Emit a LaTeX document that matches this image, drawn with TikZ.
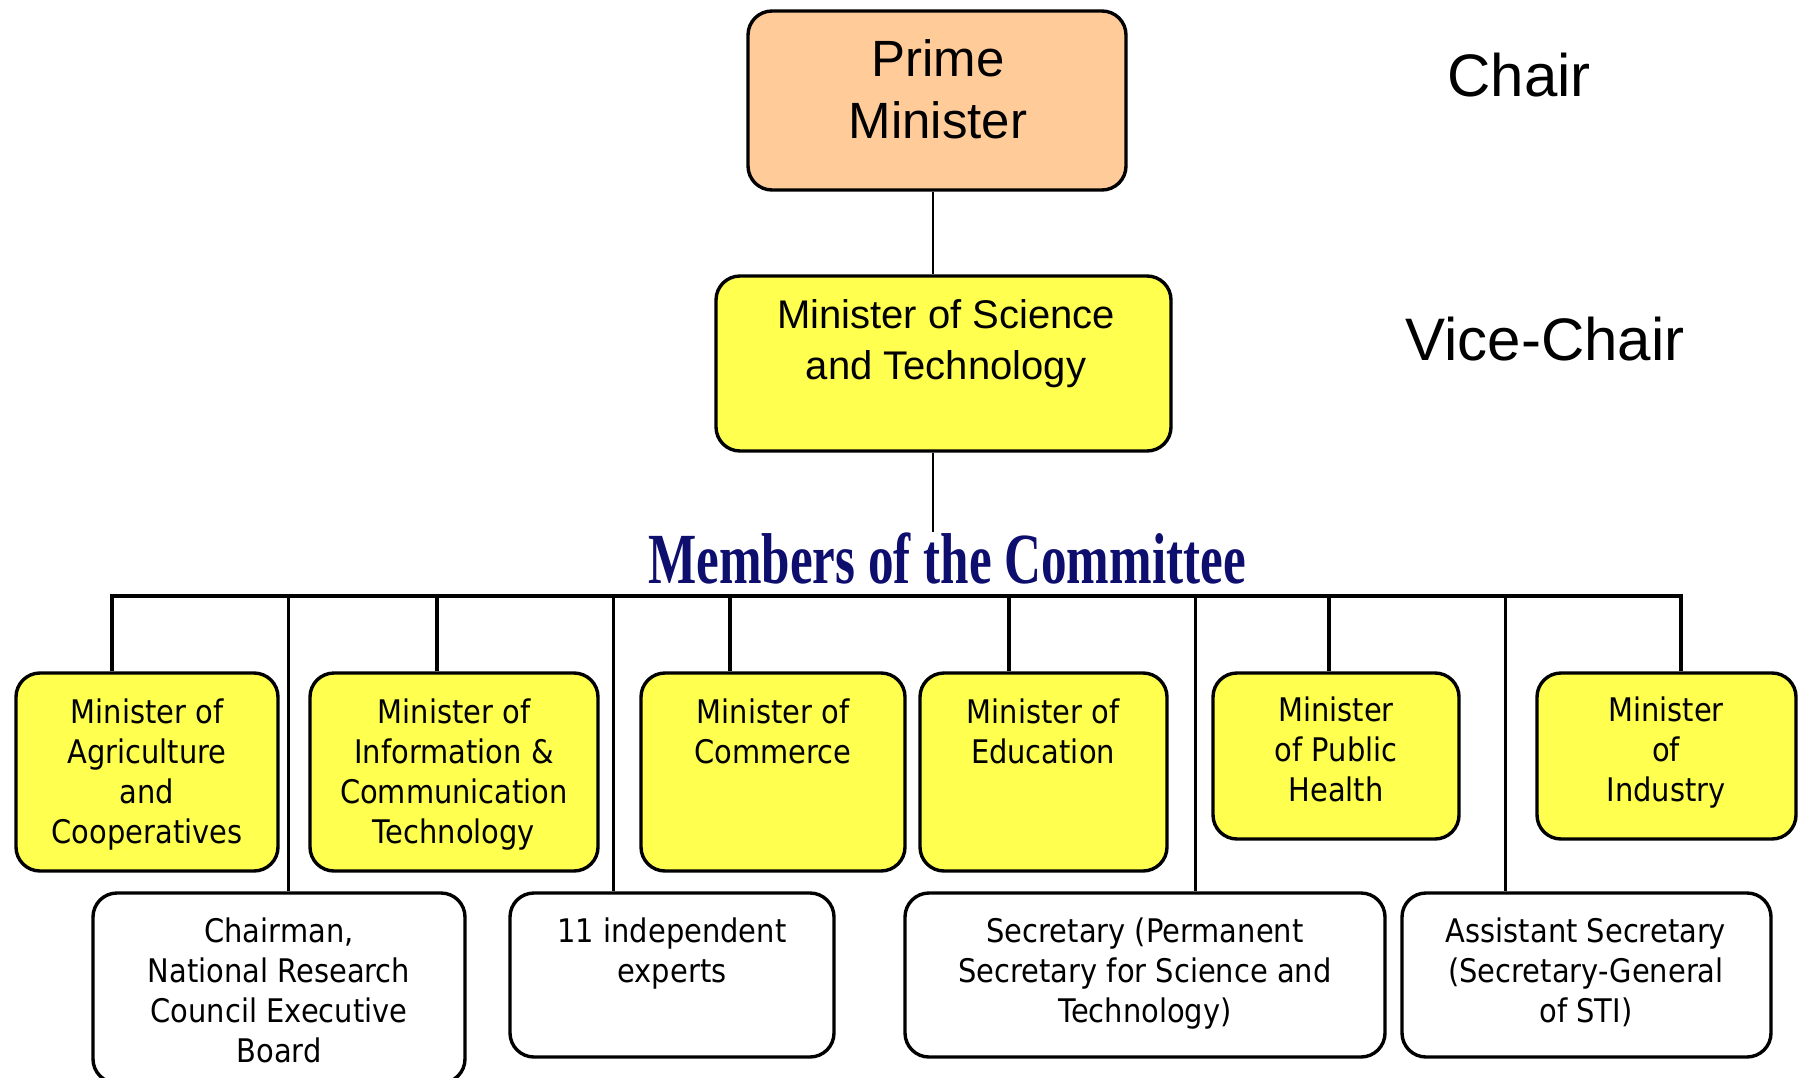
\documentclass[tikz,border=0pt]{standalone}
\usepackage{fontspec}
\usepackage{graphicx}
\setmainfont{Liberation Sans}
\newfontfamily\boxfont[FakeStretch=0.89]{DejaVu Sans}
\newfontfamily\titlefont[FakeStretch=0.71]{Liberation Serif}
\definecolor{peach}{HTML}{FFCC99}
\definecolor{yel}{HTML}{FFFF4F}
\definecolor{navy}{HTML}{0E0E6E}
\tikzset{
  boxbase/.style={draw, line width=3.4pt, rounded corners=24pt, inner sep=0pt},
  pmbox/.style={boxbase, fill=peach},
  ybox/.style={boxbase, fill=yel},
  wbox/.style={boxbase, fill=white},
  btext/.style={anchor=base, align=center, inner sep=0pt, font=\boxfont\fontsize{32.5}{40}\selectfont},
  toptext/.style={anchor=base, align=center, inner sep=0pt},
  thinline/.style={line width=2pt},
  barline/.style={line width=4pt},
  longdrop/.style={line width=3pt},
}
\begin{document}
\begin{tikzpicture}[x=1pt,y=-1pt]
\useasboundingbox (0,0) rectangle (1798,1078);

% top boxes (text nodes anchored at the baseline of their last line)
\node[pmbox, minimum width=378pt, minimum height=179pt] (pm) at (937,100.5) {};
\node[toptext, font=\fontsize{51}{62}\selectfont] (pmt) at (938,139) {Prime\\Minister};
\node[ybox, minimum width=455pt, minimum height=175pt] (most) at (943.5,363.5) {};
\node[toptext, font=\fontsize{40}{51}\selectfont] (mostt) at (946,379) {Minister of Science\\and Technology};

\node[toptext, font=\fontsize{60}{70}\selectfont] (chair) at (1519,97) {Chair};
\node[toptext, font=\fontsize{60}{70}\selectfont] (vchair) at (1545,360) {Vice-Chair};

\node[toptext, text=navy, font=\titlefont\bfseries\fontsize{72}{80}\selectfont] (title) at (947,583) {Members of the Committee};

% spine
\coordinate (vx) at (933,0);
\draw[thinline] (pm.south -| vx) -- (most.north -| vx);
\draw[thinline] (most.south -| vx) -- (title.north -| vx);

% bar
\coordinate (bl) at (112,596);
\coordinate (br) at (1681,596);
\draw[barline, line cap=rect] (bl) -- (br);

% yellow member boxes
\node[ybox, minimum width=262pt, minimum height=198pt] (agri) at (147,772) {};
\node[ybox, minimum width=288pt, minimum height=198pt] (ict) at (454,772) {};
\node[ybox, minimum width=264pt, minimum height=198pt] (comm) at (773,772) {};
\node[ybox, minimum width=247pt, minimum height=198pt] (edu) at (1043.5,772) {};
\node[ybox, minimum width=246pt, minimum height=166pt] (health) at (1336,756) {};
\node[ybox, minimum width=259pt, minimum height=166pt] (ind) at (1666.5,756) {};

\node[btext] (agrit) at (147,843) {Minister of\\Agriculture\\and\\Cooperatives};
\node[btext] (ictt) at (454,843) {Minister of\\Information \&\\Communication\\Technology};
\node[btext] (commt) at (773,763) {Minister of\\Commerce};
\node[btext] (edut) at (1043,763) {Minister of\\Education};
\node[btext] (healtht) at (1336,801) {Minister\\of Public\\Health};
\node[btext] (indt) at (1666,801) {Minister\\of\\Industry};

% white boxes
\node[wbox, minimum width=372pt, minimum height=190pt] (chairman) at (279,988) {};
\node[wbox, minimum width=324pt, minimum height=164pt] (experts) at (672,975) {};
\node[wbox, minimum width=480pt, minimum height=164pt] (sec) at (1145,975) {};
\node[wbox, minimum width=369pt, minimum height=164pt] (asec) at (1586.5,975) {};

\node[btext] (chairmant) at (279,1062) {Chairman,\\National Research\\Council Executive\\Board};
\node[btext] (expertst) at (672,982) {11 independent\\experts};
\node[btext] (sect) at (1145,1022) {Secretary (Permanent\\Secretary for Science and\\Technology)};
\node[btext] (asect) at (1586,1022) {Assistant Secretary\\(Secretary-General\\of STI)};

% drops
\coordinate (dA) at (112,596);
\coordinate (dCh) at (288,596);
\coordinate (dI) at (437,596);
\coordinate (dE) at (613,596);
\coordinate (dC) at (730,596);
\coordinate (dEd) at (1009,596);
\coordinate (dS) at (1195,596);
\coordinate (dH) at (1329,596);
\coordinate (dAS) at (1505,596);
\coordinate (dIn) at (1681,596);

\draw[barline] (dA) -- (dA |- agri.north);
\draw[barline] (dI) -- (dI |- ict.north);
\draw[barline] (dC) -- (dC |- comm.north);
\draw[barline] (dEd) -- (dEd |- edu.north);
\draw[barline] (dH) -- (dH |- health.north);
\draw[barline] (dIn) -- (dIn |- ind.north);
\draw[longdrop] (dCh) -- (dCh |- chairman.north);
\draw[longdrop] (dE) -- (dE |- experts.north);
\draw[longdrop] (dS) -- (dS |- sec.north);
\draw[longdrop] (dAS) -- (dAS |- asec.north);
\end{tikzpicture}
\end{document}
